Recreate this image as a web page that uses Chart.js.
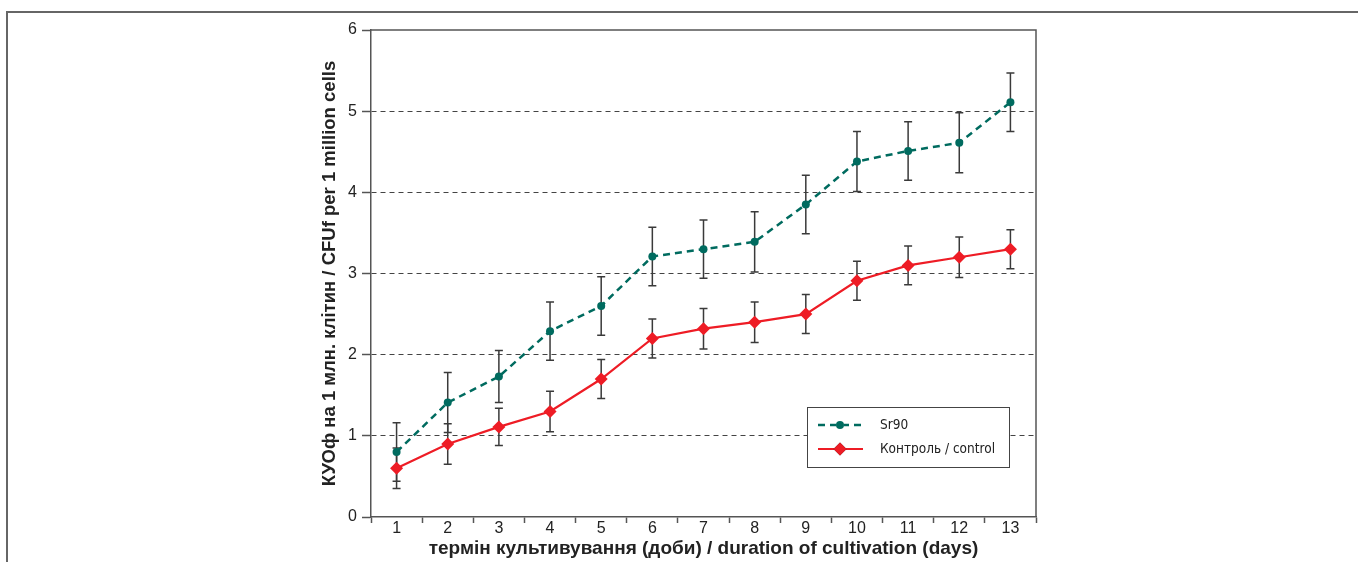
<!DOCTYPE html>
<html>
<head>
<meta charset="utf-8">
<script src="https://cdn.jsdelivr.net/npm/chart.js@4/dist/chart.umd.min.js"></script>
<style>
  html, body { margin: 0; padding: 0; background: #fff; }
  #wrap { position: relative; width: 1358px; height: 562px; }
  #frame { position: absolute; left: 6px; top: 11px; right: -10px; bottom: -10px;
           border-top: 2px solid #666; border-left: 2px solid #666; }
  canvas { position: absolute; left: 0; top: 0; }
</style>
</head>
<body>
<div id="wrap">
  <div id="frame"></div>
  <canvas id="chart" width="1358" height="562"></canvas>
</div>
<script>
// ─── Data ─────────────────────────────────────────────────────────────────────
const days = ['1', '2', '3', '4', '5', '6', '7', '8', '9', '10', '11', '12', '13'];
const sr90 = [0.80, 1.41, 1.73, 2.29, 2.60, 3.21, 3.30, 3.39, 3.85, 4.38, 4.51, 4.61, 5.11];
const sr90Err = [0.36, 0.37, 0.32, 0.36, 0.36, 0.36, 0.36, 0.37, 0.36, 0.37, 0.36, 0.37, 0.36];
const control = [0.60, 0.90, 1.11, 1.30, 1.70, 2.20, 2.32, 2.40, 2.50, 2.91, 3.10, 3.20, 3.30];
const controlErr = [0.25, 0.25, 0.23, 0.25, 0.24, 0.24, 0.25, 0.25, 0.24, 0.24, 0.24, 0.25, 0.24];
const yTicks = [0, 1, 2, 3, 4, 5, 6];

const TEAL = '#006b5f';
const RED = '#ee1c25';
const AXIS = '#555';
const narrow = "'Liberation Sans Narrow', 'Arial Narrow', sans-serif";

// ─── Error bars ───────────────────────────────────────────────────────────────
const errorBars = {
  id: 'errorBars',
  beforeDatasetsDraw(chart) {
    const { ctx, scales: { x, y } } = chart;
    const sets = [[sr90, sr90Err], [control, controlErr]];
    ctx.save();
    ctx.strokeStyle = '#3a3a3a';
    ctx.lineWidth = 1.5;
    sets.forEach(([vals, errs]) => {
      vals.forEach((v, i) => {
        const px = x.getPixelForValue(i);
        const top = y.getPixelForValue(v + errs[i]);
        const bot = y.getPixelForValue(v - errs[i]);
        ctx.beginPath();
        ctx.moveTo(px, top); ctx.lineTo(px, bot);
        ctx.moveTo(px - 4, top); ctx.lineTo(px + 4, top);
        ctx.moveTo(px - 4, bot); ctx.lineTo(px + 4, bot);
        ctx.stroke();
      });
    });
    ctx.restore();
  }
};

// ─── Plot frame + legend box ──────────────────────────────────────────────────
const frameAndLegend = {
  id: 'frameAndLegend',
  afterDraw(chart) {
    const { ctx, chartArea: a } = chart;
    ctx.save();
    ctx.strokeStyle = AXIS;
    ctx.lineWidth = 1.5;
    ctx.beginPath();
    ctx.moveTo(a.left, a.top); ctx.lineTo(a.right, a.top); ctx.lineTo(a.right, a.bottom);
    ctx.stroke();

    // legend
    const lx = a.right - 229, ly = 407, lw = 202, lh = 60;
    ctx.fillStyle = '#fff';
    ctx.fillRect(lx, ly, lw, lh);
    ctx.lineWidth = 1;
    ctx.strokeStyle = '#444';
    ctx.strokeRect(lx + 0.5, ly + 0.5, lw, lh);

    const items = chart.data.datasets;
    items.forEach((ds, k) => {
      const yy = ly + 18 + k * 24;
      ctx.strokeStyle = ds.borderColor;
      ctx.lineWidth = ds.borderWidth;
      ctx.setLineDash(ds.borderDash || []);
      ctx.beginPath(); ctx.moveTo(lx + 11, yy); ctx.lineTo(lx + 56, yy); ctx.stroke();
      ctx.setLineDash([]);
      Chart.helpers.drawPoint(ctx, {
        pointStyle: ds.pointStyle, radius: ds.pointRadius, borderWidth: 0, rotation: 0
      }, lx + 33, yy);
      ctx.fillStyle = ds.backgroundColor;
      ctx.fill();
      ctx.fillStyle = '#222';
      ctx.font = "13.5px 'DejaVu Sans Condensed', 'DejaVu Sans', sans-serif";
      ctx.textBaseline = 'middle';
      ctx.fillText(ds.label, lx + 73, yy);
    });
    ctx.restore();
  }
};

new Chart(document.getElementById('chart'), {
  type: 'line',
  data: {
    labels: days,
    datasets: [
      {
        label: 'Sr90',
        data: sr90,
        borderColor: TEAL, backgroundColor: TEAL,
        borderWidth: 2.5, borderDash: [7, 5],
        pointStyle: 'circle', pointRadius: 4, pointBorderWidth: 0,
        tension: 0
      },
      {
        label: 'Контроль / control',
        data: control,
        borderColor: RED, backgroundColor: RED,
        borderWidth: 2.2,
        pointStyle: 'rectRot', pointRadius: 6.5, pointBorderWidth: 0,
        tension: 0
      }
    ]
  },
  options: {
    responsive: false, animation: false,
    layout: { padding: { left: 316, right: 322, top: 30, bottom: 0 } },
    plugins: { legend: { display: false }, tooltip: { enabled: false } },
    scales: {
      x: {
        offset: true,
        grid: { offset: true, drawOnChartArea: false, tickLength: 6, tickColor: AXIS, tickWidth: 1.5 },
        border: { color: AXIS, width: 1.5 },
        ticks: { color: '#222', padding: -2, font: { family: narrow, size: 16, lineHeight: 1 } },
        title: {
          display: true, text: 'термін культивування (доби) / duration of cultivation (days)',
          color: '#222', font: { family: "'Liberation Sans', Arial, sans-serif", size: 19, weight: 'bold', lineHeight: 1.1 },
          padding: { top: 0, bottom: 3 }
        },
        afterFit: s => { s.height = 45; }
      },
      y: {
        min: 0, max: 6,
        afterBuildTicks: s => { s.ticks = yTicks.map(v => ({ value: v })); },
        grid: {
          color: c => (c.tick && (c.tick.value === 0 || c.tick.value === 6)) ? 'rgba(0,0,0,0)' : '#444',
          lineWidth: 1, tickLength: 9, tickColor: AXIS, tickWidth: 1.5, tickBorderDash: []
        },
        border: { color: AXIS, width: 1.5, dash: [5, 4] },
        ticks: { color: '#222', padding: 5, font: { family: narrow, size: 16 } },
        title: {
          display: true, text: 'КУОф на 1 млн. клітин / CFUf per 1 million cells',
          color: '#222', font: { family: "'Liberation Sans', Arial, sans-serif", size: 18.5, weight: 'bold', lineHeight: 1.1 },
          padding: { top: 4, bottom: 0 }
        },
        afterFit: s => { s.width = 55; }
      }
    }
  },
  plugins: [errorBars, frameAndLegend]
});
</script>
</body>
</html>
